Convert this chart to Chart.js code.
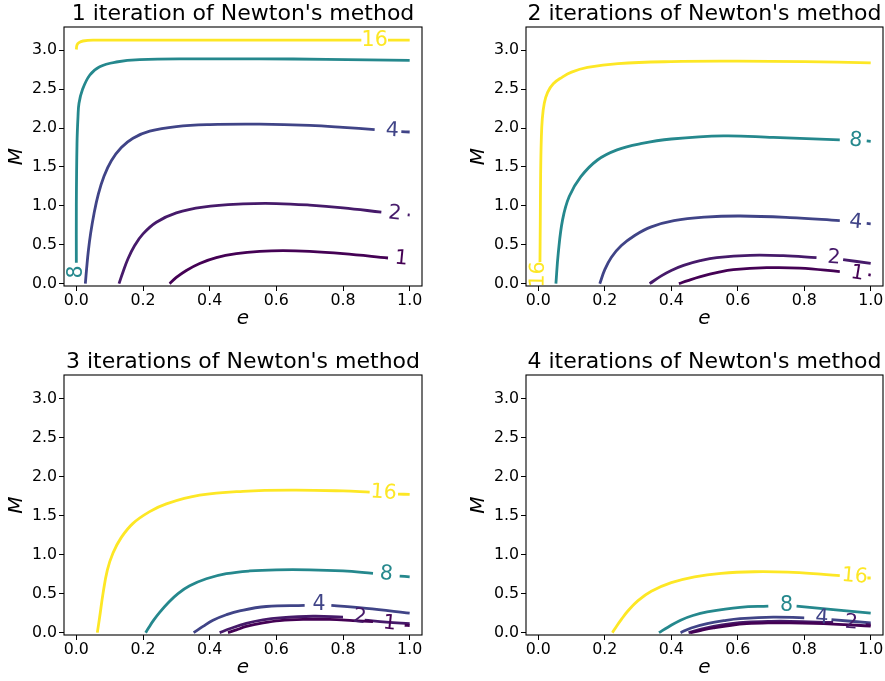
<!DOCTYPE html>
<html>
<head>
<meta charset="utf-8">
<script src="https://cdn.jsdelivr.net/npm/chart.js@4/dist/chart.umd.min.js"></script>
<style>
  html, body { margin: 0; padding: 0; background: #fff; }
  body { width: 885px; height: 681px; overflow: hidden; position: relative; }
  canvas { position: absolute; }
</style>
</head>
<body>
<canvas id="c1" width="432" height="332" style="left:0px;top:0px"></canvas>
<canvas id="c2" width="423" height="332" style="left:462px;top:0px"></canvas>
<canvas id="c3" width="432" height="333" style="left:0px;top:348px"></canvas>
<canvas id="c4" width="423" height="333" style="left:462px;top:348px"></canvas>
<script>
// ---------- data ----------
const levels = [1, 2, 4, 8, 16];
const eTicks = [0.0, 0.2, 0.4, 0.6, 0.8, 1.0];
const MTicks = [0.0, 0.5, 1.0, 1.5, 2.0, 2.5, 3.0];
const titles = ["1 iteration of Newton's method", "2 iterations of Newton's method",
                "3 iterations of Newton's method", "4 iterations of Newton's method"];

// [e, M] points; null = break in the line where a label sits
const it1_lvl1 = [[0.28,0],[0.30,0.08],[0.33,0.17],[0.37,0.26],[0.42,0.335],[0.48,0.385],[0.55,0.415],[0.62,0.425],[0.70,0.415],[0.80,0.385],[0.935,0.33]];
const it1_lvl2 = [[0.128,0],[0.14,0.15],[0.155,0.32],[0.175,0.49],[0.2,0.64],[0.24,0.79],[0.3,0.91],[0.38,0.985],[0.5,1.025],[0.6,1.03],[0.7,1.01],[0.8,0.975],[0.915,0.92],null,[0.994,0.885],[1.0,0.882]];
const it1_lvl4 = [[0.027,0],[0.031,0.2],[0.036,0.42],[0.043,0.65],[0.053,0.9],[0.066,1.15],[0.083,1.38],[0.105,1.58],[0.135,1.75],[0.17,1.87],[0.22,1.96],[0.3,2.02],[0.4,2.045],[0.55,2.05],[0.7,2.035],[0.8,2.01],[0.895,1.98],null,[0.975,1.955],[1.0,1.95]];
const it1_lvl8 = [[0.0,0.27],[0.0,1.0],[0.002,1.8],[0.005,2.15],[0.008,2.32],[0.018,2.49],[0.04,2.68],[0.07,2.79],[0.12,2.85],[0.19,2.88],[0.35,2.89],[0.55,2.89],[0.75,2.885],[1.0,2.87]];
const it1_lvl16 = [[0.0,3.01],[0.002,3.07],[0.008,3.10],[0.02,3.12],[0.05,3.13],[0.4,3.13],[0.855,3.13],null,[0.935,3.13],[1.0,3.13]];
const it1_labels = [[0.975,0.32],[0.955,0.90],[0.948,1.965],[0.0,0.15],[0.895,3.13]];

const it2_lvl1 = [[0.423,0],[0.45,0.04],[0.488,0.09],[0.54,0.145],[0.587,0.18],[0.687,0.205],[0.787,0.2],[0.907,0.155],null,[0.993,0.115],[1.0,0.11]];
const it2_lvl2 = [[0.335,0],[0.37,0.1],[0.4,0.17],[0.437,0.235],[0.487,0.295],[0.537,0.335],[0.637,0.365],[0.737,0.36],[0.837,0.335],null,[0.917,0.31],[1.0,0.26]];
const it2_lvl4 = [[0.185,0],[0.2,0.18],[0.22,0.34],[0.25,0.49],[0.29,0.62],[0.34,0.73],[0.408,0.81],[0.5,0.855],[0.607,0.87],[0.757,0.85],[0.907,0.81],null,[0.988,0.775],[1.0,0.77]];
const it2_lvl8 = [[0.053,0],[0.06,0.39],[0.073,0.82],[0.093,1.12],[0.128,1.375],[0.178,1.59],[0.237,1.72],[0.308,1.80],[0.4,1.86],[0.557,1.90],[0.707,1.88],[0.907,1.85],null,[0.988,1.835],[1.0,1.83]];
const it2_lvl16 = [[0.005,0.28],[0.006,0.8],[0.007,1.4],[0.009,1.85],[0.012,2.12],[0.018,2.32],[0.028,2.46],[0.045,2.57],[0.07,2.65],[0.1,2.72],[0.148,2.78],[0.24,2.83],[0.4,2.855],[0.6,2.86],[0.8,2.855],[1.0,2.84]];
const it2_labels = [[0.96,0.13],[0.889,0.33],[0.955,0.79],[0.955,1.84],[0.0,0.12]];

const it3_lvl1 = [[0.455,0],[0.48,0.035],[0.51,0.08],[0.56,0.125],[0.61,0.155],[0.68,0.17],[0.76,0.17],[0.83,0.155],[0.89,0.14],null,[0.985,0.095],[1.0,0.09]];
const it3_lvl2 = [[0.43,0],[0.46,0.05],[0.51,0.12],[0.56,0.165],[0.61,0.19],[0.71,0.21],[0.80,0.20],null,[0.865,0.16],[0.93,0.135],[1.0,0.115]];
const it3_lvl4 = [[0.352,0],[0.38,0.08],[0.41,0.16],[0.45,0.23],[0.49,0.28],[0.57,0.335],[0.685,0.35],null,[0.765,0.35],[0.87,0.31],[1.0,0.25]];
const it3_lvl8 = [[0.208,0],[0.218,0.07],[0.232,0.16],[0.25,0.26],[0.275,0.38],[0.305,0.5],[0.34,0.6],[0.39,0.69],[0.45,0.755],[0.52,0.79],[0.6,0.805],[0.7,0.805],[0.8,0.79],[0.89,0.76],null,[0.97,0.725],[1.0,0.715]];
const it3_lvl16 = [[0.063,0],[0.07,0.2],[0.08,0.5],[0.093,0.8],[0.11,1.02],[0.135,1.22],[0.17,1.40],[0.22,1.55],[0.27,1.65],[0.37,1.76],[0.5,1.81],[0.65,1.825],[0.8,1.815],[0.88,1.80],null,[0.965,1.775],[1.0,1.77]];
const it3_labels = [[0.94,0.115],[0.85,0.20],[0.728,0.355],[0.93,0.75],[0.922,1.79]];

const it4_lvl1 = [[0.457,0],[0.49,0.03],[0.527,0.06],[0.58,0.095],[0.627,0.115],[0.7,0.125],[0.757,0.125],[0.887,0.11],[1.0,0.085]];
const it4_lvl2 = [[0.452,0],[0.49,0.045],[0.527,0.08],[0.58,0.115],[0.627,0.135],[0.7,0.145],[0.757,0.145],[0.887,0.13],null,[0.985,0.105],[1.0,0.1]];
const it4_lvl4 = [[0.428,0],[0.46,0.06],[0.508,0.115],[0.56,0.155],[0.607,0.18],[0.707,0.20],[0.80,0.19],null,[0.882,0.167],[1.0,0.125]];
const it4_lvl8 = [[0.363,0],[0.39,0.07],[0.428,0.16],[0.465,0.22],[0.508,0.265],[0.607,0.325],[0.692,0.34],null,[0.777,0.34],[0.887,0.295],[1.0,0.25]];
const it4_lvl16 = [[0.223,0],[0.235,0.08],[0.25,0.17],[0.27,0.28],[0.3,0.41],[0.34,0.53],[0.4,0.64],[0.47,0.715],[0.55,0.76],[0.65,0.78],[0.75,0.775],[0.85,0.75],[0.907,0.73],null,[0.99,0.70],[1.0,0.70]];
const it4_labels = [null,[0.942,0.125],[0.853,0.19],[0.747,0.345],[0.952,0.72]];

// ---------- styles ----------
const levelColors = ['#440154', '#461a6a', '#404487', '#25888d', '#fde725'];
const FONT = '"DejaVu Sans", "Liberation Sans", sans-serif';

const framePlugin = {
  id: 'frame',
  afterDraw(chart) {
    const {ctx, chartArea: a} = chart;
    ctx.save();
    ctx.strokeStyle = '#000';
    ctx.lineWidth = 1.1;
    ctx.strokeRect(a.left, a.top, a.right - a.left, a.bottom - a.top);
    ctx.restore();
  }
};

const contourLabelPlugin = {
  id: 'contourLabels',
  afterDatasetsDraw(chart, args, opts) {
    const {ctx, scales: {x, y}} = chart;
    (opts.positions || []).forEach((pos, i) => {
      if (!pos) return;
      const px = x.getPixelForValue(pos[0]);
      const py = y.getPixelForValue(pos[1]);
      const pts = chart.getDatasetMeta(i).data.filter(p => !p.skip && isFinite(p.x) && isFinite(p.y));
      const near = pts.map(p => ({p, d: Math.hypot(p.x - px, p.y - py)}))
                      .sort((a, b) => a.d - b.d).slice(0, 2).map(o => o.p);
      let ang = 0;
      if (near.length === 2) {
        const idxA = pts.indexOf(near[0]), idxB = pts.indexOf(near[1]);
        const [p1, p2] = idxA < idxB ? [near[0], near[1]] : [near[1], near[0]];
        ang = Math.atan2(p2.y - p1.y, p2.x - p1.x);
        if (ang > Math.PI / 2 - 1e-6) ang -= Math.PI;
        if (ang < -Math.PI / 2 - 1e-6) ang += Math.PI;
      }
      ctx.save();
      ctx.translate(px, py);
      ctx.rotate(ang);
      ctx.font = '20.5px ' + FONT;
      ctx.fillStyle = levelColors[i];
      ctx.textAlign = 'center';
      ctx.textBaseline = 'middle';
      ctx.fillText(String(levels[i]), 0, 0);
      ctx.restore();
    });
  }
};

function toPoints(arr) {
  return arr.map(p => p ? {x: p[0], y: p[1]} : {x: NaN, y: NaN});
}

function makeChart(id, title, series, labelPos, padRight) {
  const datasets = series.map((s, i) => ({
    data: toPoints(s),
    borderColor: levelColors[i],
    backgroundColor: levelColors[i],
    borderWidth: 2.8,
    showLine: true,
    pointRadius: 0,
    pointHoverRadius: 0,
    tension: 0.4,
    spanGaps: false,
    fill: false
  }));
  return new Chart(document.getElementById(id), {
    type: 'scatter',
    data: {datasets},
    options: {
      responsive: false,
      animation: false,
      events: [],
      layout: {padding: {left: 0, top: 0, right: padRight, bottom: 0}},
      plugins: {
        legend: {display: false},
        tooltip: {enabled: false},
        title: {
          display: true, text: title, color: '#000', fullSize: false,
          font: {family: FONT, size: 22, weight: 'normal', lineHeight: 1.2},
          padding: {top: 0.6, bottom: 0}
        },
        contourLabels: {positions: labelPos}
      },
      scales: {
        x: {
          type: 'linear', min: -0.037, max: 1.037,
          afterFit: s => { s.height = 46; },
          afterBuildTicks: s => { s.ticks = eTicks.map(v => ({value: v})); },
          ticks: {
            color: '#000', font: {family: FONT, size: 15.8}, padding: 0.5,
            autoSkip: false, maxRotation: 0, callback: v => Number(v).toFixed(1)
          },
          grid: {display: true, drawOnChartArea: false, drawTicks: true, tickLength: 5, tickColor: '#000', tickWidth: 1},
          border: {display: false},
          title: {display: true, text: 'e', color: '#000',
                  font: {family: FONT, size: 20, style: 'italic', lineHeight: 1.2},
                  padding: {top: 0, bottom: 1}}
        },
        y: {
          type: 'linear', min: -0.03, max: 3.30,
          afterFit: s => { s.width = 64; },
          afterBuildTicks: s => { s.ticks = MTicks.map(v => ({value: v})); },
          ticks: {
            color: '#000', font: {family: FONT, size: 15.8}, padding: 2,
            autoSkip: false, callback: v => Number(v).toFixed(1)
          },
          grid: {display: true, drawOnChartArea: false, drawTicks: true, tickLength: 5, tickColor: '#000', tickWidth: 1},
          border: {display: false},
          title: {display: true, text: 'M', color: '#000',
                  font: {family: FONT, size: 20, style: 'italic', lineHeight: 1.2},
                  padding: {top: 4.5, bottom: 0}}
        }
      }
    },
    plugins: [framePlugin, contourLabelPlugin]
  });
}

makeChart('c1', titles[0], [it1_lvl1, it1_lvl2, it1_lvl4, it1_lvl8, it1_lvl16], it1_labels, 10);
makeChart('c2', titles[1], [it2_lvl1, it2_lvl2, it2_lvl4, it2_lvl8, it2_lvl16], it2_labels, 2);
makeChart('c3', titles[2], [it3_lvl1, it3_lvl2, it3_lvl4, it3_lvl8, it3_lvl16], it3_labels, 10);
makeChart('c4', titles[3], [it4_lvl1, it4_lvl2, it4_lvl4, it4_lvl8, it4_lvl16], it4_labels, 2);
</script>
</body>
</html>
